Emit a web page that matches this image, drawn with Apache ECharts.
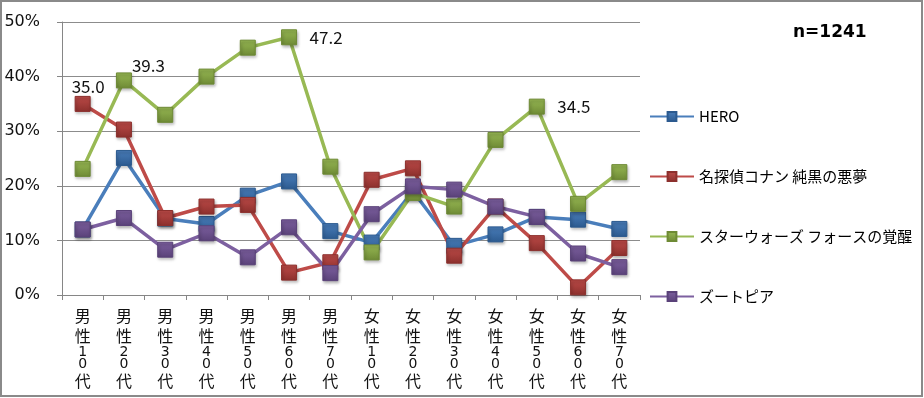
<!DOCTYPE html>
<html><head><meta charset="utf-8">
<script src="https://cdn.jsdelivr.net/npm/echarts@6/dist/echarts.min.js"></script>
<style>html,body{margin:0;padding:0;background:#fff}#c{width:924px;height:398px}</style>
</head><body><div id="c"></div>
<script>
const categories = ['男性10代','男性20代','男性30代','男性40代','男性50代','男性60代','男性70代','女性10代','女性20代','女性30代','女性40代','女性50代','女性60代','女性70代'];
const seriesNames = ['HERO','名探偵コナン 純黒の悪夢','スターウォーズ フォースの覚醒','ズートピア'];
const hero   = [12.0,25.1,14.0,13.0,18.2,20.8,11.7,9.6,19.0,9.0,11.1,14.3,13.8,12.1];
const conan  = [35.0,30.3,14.1,16.2,16.5,4.1,6.0,21.1,23.2,7.2,16.2,9.5,1.4,8.6];
const starwars = [23.1,39.3,33.0,40.0,45.3,47.2,23.5,7.8,18.7,16.2,28.4,34.5,16.7,22.5];
const zootopia = [12.0,14.1,8.3,11.3,6.9,12.4,4.0,14.8,19.9,19.3,16.2,14.3,7.6,5.1];
const yTicks = [0,10,20,30,40,50];
const labeled = {1:{0:'a'},2:{1:'b',5:'c',11:'c'}};
const labelPos = {
  a:{position:[13.5,-9],align:'center'},
  b:{position:[16,-7],align:'left'},
  c:{position:[28.5,8],align:'left'}
};
const colors = ['#4A7EBB','#BE4B48','#98B954','#7D60A0'];
const dark = ['#2C5A8F','#8C302D','#6E8A35','#5A4279'];

function fmtCat(c){
  const chars = c.slice(0,2).split('');
  const num = c.slice(2,4).split('');
  return chars.map(x=>'{a|'+x+'}').join('\n')+'\n'+num.map(x=>'{d|'+x+'}').join('\n')+'\n{a|'+c.slice(4)+'}';
}
const all=[hero,conan,starwars,zootopia];
const series = all.map((arr,i)=>({
  name: seriesNames[i], type:'line', data: arr.map((v,j)=>{
    const k = labeled[i] && labeled[i][j];
    if(k){
      return {value:v,label:{show:true,position:labelPos[k].position,align:labelPos[k].align,verticalAlign:'middle',
        formatter:(p)=>p.value.toFixed(1),fontSize:17,color:'#111',fontFamily:'"Noto Sans CJK JP"'}};
    }
    return v;
  }),
  symbol:'rect', symbolSize:15,
  lineStyle:{width:3.5,color:colors[i]},
  itemStyle:{color:{type:'linear',x:0,y:0,x2:0,y2:1,colorStops:[{offset:0,color:colors[i]},{offset:1,color:dark[i]}]},borderColor:dark[i],borderWidth:1,
    shadowColor:'rgba(0,0,0,0.3)',shadowBlur:3,shadowOffsetX:1,shadowOffsetY:2},
  emphasis:{disabled:true}, animation:false
}));
const chart = echarts.init(document.getElementById('c'));
chart.setOption({
  animation:false,
  color:colors,
  grid:{left:62,right:284,top:22,bottom:103},
  xAxis:{type:'category',data:categories,boundaryGap:true,
    axisLine:{lineStyle:{color:'#868686',width:1}},
    axisTick:{show:true,length:5,lineStyle:{color:'#868686'}},
    axisLabel:{interval:0,margin:11,formatter:fmtCat,
      rich:{a:{fontSize:16,lineHeight:20,color:'#111',fontFamily:'"Noto Sans CJK JP"'},
            d:{fontSize:14,lineHeight:12.5,color:'#111',fontFamily:'"DejaVu Sans"'}}}},
  yAxis:{type:'value',min:0,max:50,interval:10,
    axisLine:{show:true,lineStyle:{color:'#868686'}},
    axisTick:{show:true,length:5,lineStyle:{color:'#868686'}},
    splitLine:{lineStyle:{color:'#8C8C8C',width:1}},
    axisLabel:{formatter:v=>v+'%',fontSize:16,color:'#111',margin:22,fontFamily:'"DejaVu Sans"'}},
  legend:{orient:'vertical',left:644,top:104,itemWidth:44,itemHeight:11,itemGap:45,
    data:seriesNames,textStyle:{fontSize:15,color:'#000',fontFamily:'"Noto Sans CJK JP"'}},
  graphic:[
    {type:'rect',shape:{x:1,y:1,width:921,height:395},style:{fill:'none',stroke:'#8A8A8A',lineWidth:2},silent:true},
    {type:'text',left:793,top:24,style:{text:'n=1241',font:'bold 17px "DejaVu Sans"',fill:'#000'}}
  ],
  series:series
});
</script></body></html>
